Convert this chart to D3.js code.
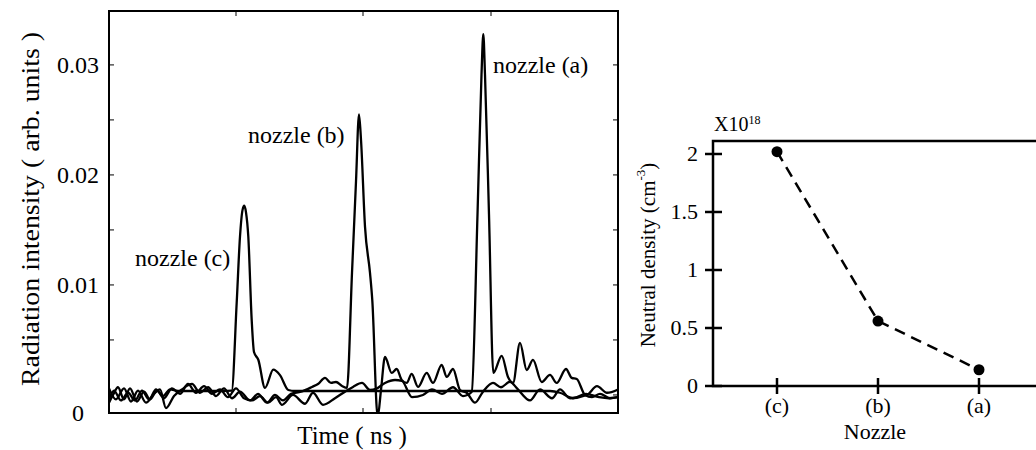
<!DOCTYPE html>
<html>
<head>
<meta charset="utf-8">
<script src="https://cdn.jsdelivr.net/npm/d3@7"></script>
<style>
  body { margin: 0; background: #fff; }
</style>
</head>
<body>
<div id="chart"></div>
<script>
// ---------- left panel data (time has no numbers on the axis, kept in plot units 0..509)
const timeTicks = [127, 254, 382];
const intensityTicks = [0, 0.005, 0.01, 0.015, 0.02, 0.025, 0.03];
const intensityLabels = [0, 0.01, 0.02, 0.03];

// each trace: [time, intensity]
const traceA = [
  [0, -0.0007], [4, 0], [9, 0.0007], [15, -0.0004], [21, 0.0006], [28, -0.0006],
  [35, 0.0003], [41, -0.0004], [48, 0.0004], [55, -0.0003], [63, 0.0006], [71, 0.0001],
  [79, 0.001], [87, 0.0002], [95, 0.0008], [103, 0.0001], [111, 0.0005], [119, -0.0002],
  [127, 0.0006], [135, -0.0003], [143, -0.0005], [151, -0.0001], [159, -0.0007],
  [167, -0.0002], [173, -0.0009], [184, 0], [196, -0.0008], [204, 0.0002], [214, -0.0009],
  [226, -0.0003], [236, 0.0003], [244, 0.00073], [253, 0.00109], [261, 0.00045], [267, 0.00055],
  [276, 0.00109], [286, 0.00136], [293, 0.00127], [303, -0.0002], [314, 0], [323, 0.0005],
  [333, 0.0001], [344, 0.0007], [354, -0.0001], [362.7, 0.00027], [368.5, 0.0164], [372.5, 0.0291],
  [374.3, 0.0328], [376, 0.0291], [380, 0.0164], [384.3, 0.002], [392.7, 0.00355], [399, 0.00164],
  [404, 0.00109], [411, 0.00473], [417.7, 0.00227], [424, 0.00318], [432.7, 0.00118], [441, 0.00182],
  [447.7, 0.00109], [457, 0.00236], [462.7, 0.00155], [467.7, 0.00145], [476, 0], [483, -0.0002],
  [491, 0.0001], [501, -0.0003], [509, -0.0002]
];

const traceB = [
  [0, 0.0006], [7, -0.0004], [15, 0.0006], [22, -0.0006], [29, 0.0004], [37, -0.0007],
  [45, 0.0001], [51, 0.0005], [57, -0.0012], [65, -0.0001], [73, 0.0005], [83, 0.001],
  [91, 0.0002], [99, 0.0007], [107, -0.0001], [115, 0.0006], [123, -0.0003], [131, 0.0003],
  [141, -0.0005], [149, 0.0001], [158, -0.0007], [166, 0], [174, -0.0005], [182, 0.0001],
  [192, 0.0003], [203, 0.00073], [209, 0.001], [216, 0.00155], [222, 0.00109], [227, 0.00118],
  [233, 0.00082], [238, 0.00064], [243, 0.0111], [247, 0.0194], [250, 0.0255], [252, 0.0232],
  [256, 0.0153], [261, 0.0111], [263.3, 0.0086], [268.7, -0.002], [272, 0.00045], [276, 0.00345],
  [282.7, 0.002], [287.7, 0.00236], [292.7, 0.00136], [297.7, 0.00109], [302.7, 0.00191],
  [309, 0.00073], [317.7, 0.002], [324, 0.00109], [332.7, 0.00273], [337.7, 0.00164], [344, 0.00236],
  [351, 0.00045], [358, 0.00018], [366, -0.0007], [374, 0.0003], [384, 0.0011], [392, 0.0007],
  [401, 0.0012], [408, 0.0006], [421, -0.0005], [431, 0.0005], [443, -0.0003], [451, 0.0005],
  [461, -0.0003], [478, 0], [488, 0.0008], [498, 0.0002], [509, 0.0005]
];

const traceC = [
  [0, -0.0004], [5, 0.0004], [12, -0.0005], [19, 0.0002], [26, -0.0005], [33, 0.0004],
  [40, -0.0004], [47, 0.0005], [54, -0.0001], [61, 0.0005], [69, 0.00036], [91, 0.00036],
  [113, 0.00036], [122.7, 0.0004], [127.7, 0.0084], [131, 0.0144], [133.5, 0.0168], [135.3, 0.0172],
  [137, 0.0166], [139.3, 0.0144], [142.7, 0.0068], [145, 0.0039], [149.3, 0.0032], [156, 0.00064],
  [164.3, 0.0023], [171, 0.0018], [179.3, 0.00045], [186, 0.00036], [220, 0.00036], [260, 0.00036],
  [300, 0.00036], [340, 0.00036], [380, 0.00036], [420, 0.00036], [441, 0.00036], [451, 0.0002],
  [464, -0.0003], [477, 0.0001], [490, -0.0002], [500, -0.0003], [509, -0.0002]
];

const peakNotes = [
  { label: 'nozzle (a)', t: 384, v: 0.0293 },
  { label: 'nozzle (b)', t: 139, v: 0.0229 },
  { label: 'nozzle (c)', t: 26, v: 0.0117 }
];

// ---------- right panel data
const nozzles = ['(c)', '(b)', '(a)'];
const density = [2.02, 0.56, 0.14];
const densityTicks = [0, 0.5, 1, 1.5, 2];

const W = 1036, H = 450;
const svg = d3.select('#chart').append('svg')
  .attr('width', W).attr('height', H)
  .style('display', 'block')
  .attr('font-family', '"Liberation Serif", "Times New Roman", serif');

// ================= left panel =================
const L = { left: 109, right: 618, top: 11, bottom: 413 };
const x = d3.scaleLinear().domain([0, 509]).range([L.left, L.right]);
const y = d3.scaleLinear().domain([-0.00164, 0.0349]).range([L.bottom, L.top]);

svg.append('clipPath').attr('id', 'clipL')
  .append('rect')
  .attr('x', L.left).attr('y', L.top)
  .attr('width', L.right - L.left).attr('height', L.bottom - L.top);

const line = d3.line()
  .x(d => x(d[0]))
  .y(d => y(d[1]))
  .curve(d3.curveMonotoneX);

svg.append('g')
  .attr('clip-path', 'url(#clipL)')
  .selectAll('path')
  .data([traceA, traceB, traceC])
  .join('path')
  .attr('d', line)
  .attr('fill', 'none')
  .attr('stroke', '#000')
  .attr('stroke-width', 2.3)
  .attr('stroke-linejoin', 'round');

// inward ticks
const tk = svg.append('g').attr('stroke', '#000').attr('stroke-width', 1);
intensityTicks.forEach(v => {
  tk.append('line').attr('x1', L.left).attr('x2', L.left + 5).attr('y1', y(v)).attr('y2', y(v));
  tk.append('line').attr('x1', L.right - 5).attr('x2', L.right).attr('y1', y(v)).attr('y2', y(v));
});
timeTicks.forEach(t => {
  tk.append('line').attr('x1', x(t)).attr('x2', x(t)).attr('y1', L.top).attr('y2', L.top + 5);
  tk.append('line').attr('x1', x(t)).attr('x2', x(t)).attr('y1', L.bottom - 5).attr('y2', L.bottom);
});

svg.append('rect')
  .attr('x', L.left).attr('y', L.top)
  .attr('width', L.right - L.left).attr('height', L.bottom - L.top)
  .attr('fill', 'none').attr('stroke', '#000').attr('stroke-width', 2);

// y labels ("0" sits at the bottom of the frame)
svg.append('g')
  .selectAll('text')
  .data(intensityLabels)
  .join('text')
  .attr('x', 78)
  .attr('y', d => (d === 0 ? L.bottom : y(d)) + 8)
  .attr('text-anchor', 'middle')
  .style('font-size', '24px')
  .text(d => d === 0 ? '0' : d3.format('.2f')(d));

svg.append('text')
  .attr('transform', `translate(30,209) rotate(-90)`)
  .attr('text-anchor', 'middle')
  .attr('dominant-baseline', 'central')
  .attr('textLength', 354)
  .attr('lengthAdjust', 'spacingAndGlyphs')
  .style('font-size', '25px')
  .text('Radiation intensity ( arb. units )');

svg.append('text')
  .attr('x', 352).attr('y', 444)
  .attr('text-anchor', 'middle')
  .style('font-size', '25px')
  .text('Time ( ns )');

svg.append('g')
  .selectAll('text')
  .data(peakNotes)
  .join('text')
  .attr('x', d => x(d.t))
  .attr('y', d => y(d.v))
  .style('font-size', '24px')
  .text(d => d.label);

// ================= right panel =================
const R = { left: 713, right: 1040, top: 141, bottom: 386 };
const xr = d3.scalePoint().domain(nozzles).range([777, 979]);
const yr = d3.scaleLinear().domain([0, 2.112]).range([R.bottom, R.top]);

svg.append('rect')
  .attr('x', R.left).attr('y', R.top)
  .attr('width', R.right - R.left).attr('height', R.bottom - R.top)
  .attr('fill', 'none').attr('stroke', '#000').attr('stroke-width', 2.5);

const rt = svg.append('g').attr('stroke', '#000').attr('stroke-width', 2.5);
densityTicks.forEach(v => {
  rt.append('line').attr('x1', R.left - 8).attr('x2', R.left + 9).attr('y1', yr(v)).attr('y2', yr(v));
});
nozzles.forEach(n => {
  rt.append('line').attr('x1', xr(n)).attr('x2', xr(n)).attr('y1', R.bottom - 8).attr('y2', R.bottom + 8);
});

svg.append('g')
  .selectAll('text')
  .data(densityTicks)
  .join('text')
  .attr('x', 698)
  .attr('y', d => yr(d) + 7)
  .attr('text-anchor', 'end')
  .style('font-size', '22px')
  .text(d => d);

svg.append('g')
  .selectAll('text')
  .data(nozzles)
  .join('text')
  .attr('x', d => xr(d))
  .attr('y', 413)
  .attr('text-anchor', 'middle')
  .style('font-size', '22px')
  .text(d => d);

svg.append('text')
  .attr('x', 875).attr('y', 439)
  .attr('text-anchor', 'middle')
  .style('font-size', '22px')
  .text('Nozzle');

const yt = svg.append('text')
  .attr('transform', 'translate(648,255) rotate(-90)')
  .attr('text-anchor', 'middle')
  .attr('dominant-baseline', 'central')
  .style('font-size', '21px');
yt.append('tspan').text('Neutral density (cm');
yt.append('tspan').attr('dy', -8).style('font-size', '13px').text('-3');
yt.append('tspan').attr('dy', 8).text(')');

const ex = svg.append('text')
  .attr('x', 714).attr('y', 131)
  .style('font-size', '20px');
ex.append('tspan').text('X10');
ex.append('tspan').attr('dy', -7).style('font-size', '12px').text('18');

const pts = nozzles.map((n, i) => [n, density[i]]);

svg.append('path')
  .datum(pts)
  .attr('d', d3.line().x(d => xr(d[0])).y(d => yr(d[1])))
  .attr('fill', 'none')
  .attr('stroke', '#000')
  .attr('stroke-width', 2.5)
  .attr('stroke-dasharray', '11,7');

svg.append('g')
  .selectAll('circle')
  .data(pts)
  .join('circle')
  .attr('cx', d => xr(d[0]))
  .attr('cy', d => yr(d[1]))
  .attr('r', 5.5)
  .attr('fill', '#000');
</script>
</body>
</html>
